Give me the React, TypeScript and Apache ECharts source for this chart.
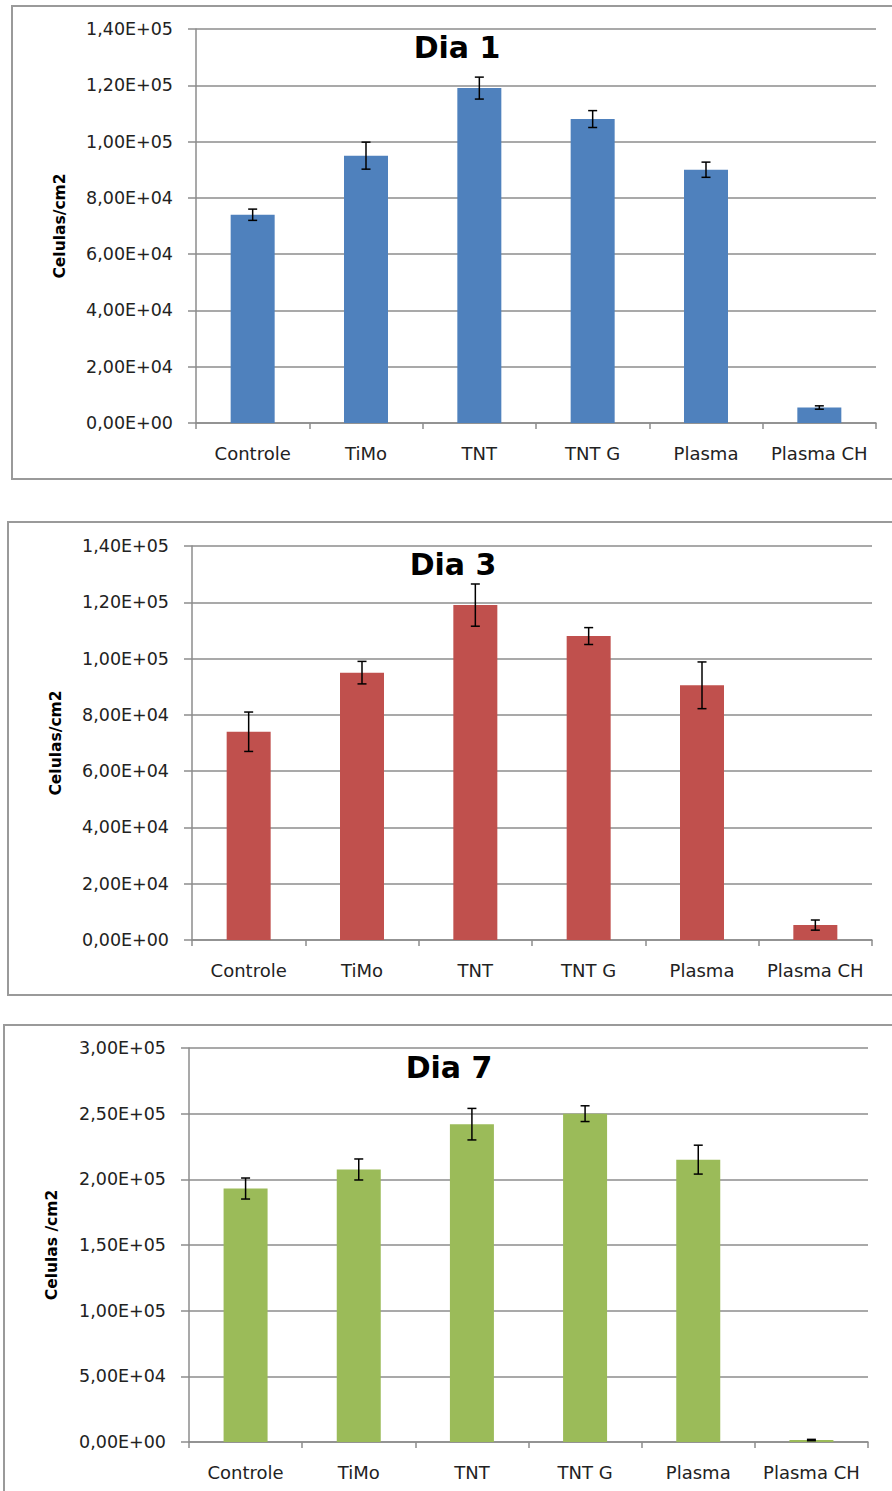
import React, { useEffect, useRef } from "react";
import * as echarts from "echarts";

const categories = ["Controle", "TiMo", "TNT", "TNT G", "Plasma", "Plasma CH"];

const dia1Values = [74000, 95000, 119000, 108000, 90000, 5500];
const dia1Errors = [2000, 4800, 3900, 3000, 2700, 600];

const dia3Values = [74000, 95000, 119000, 108000, 90500, 5300];
const dia3Errors = [7000, 4000, 7500, 3000, 8300, 1800];

const dia7Values = [193000, 207500, 242000, 250000, 215000, 1500];
const dia7Errors = [8000, 8000, 12000, 6000, 11000, 500];

const titles = ["Dia 1", "Dia 3", "Dia 7"];
const yNames = ["Celulas/cm2", "Celulas/cm2", "Celulas /cm2"];
const yMax = [140000, 140000, 300000];
const yInterval = [20000, 20000, 50000];
const colors = ["#4F81BD", "#C0504D", "#9BBB59"];

const panels = [
  { values: dia1Values, errors: dia1Errors, grid: { left: 196, top: 29, width: 680, height: 394 }, box: [12, 6, 900, 473], title: [457, 47], yName: [60, 226] },
  { values: dia3Values, errors: dia3Errors, grid: { left: 192, top: 546, width: 680, height: 394 }, box: [8, 522, 900, 473], title: [453, 564], yName: [56, 743] },
  { values: dia7Values, errors: dia7Errors, grid: { left: 189, top: 1048, width: 679, height: 394 }, box: [4, 1025, 900, 520], title: [449, 1067], yName: [52, 1245] },
];

function sci(v: number): string {
  if (v === 0) return "0,00E+00";
  const e = Math.floor(Math.log10(v) + 1e-9);
  const m = v / Math.pow(10, e);
  return m.toFixed(2).replace(".", ",") + "E+" + String(e).padStart(2, "0");
}

const FONT = "DejaVu Sans";
const GRID_COLOR = "#8c8c8c";

export default function App() {
  const ref = useRef<HTMLDivElement>(null);
  useEffect(() => {
    const chart = echarts.init(ref.current!, null, { renderer: "svg" });
    const grids: any[] = [];
    const xAxes: any[] = [];
    const yAxes: any[] = [];
    const series: any[] = [];
    const graphics: any[] = [];
    panels.forEach((p, i) => {
      grids.push({ ...p.grid, containLabel: false });
      xAxes.push({
        type: "category",
        gridIndex: i,
        data: categories,
        boundaryGap: true,
        axisLine: { lineStyle: { color: GRID_COLOR, width: 1.5 } },
        axisTick: { show: true, length: 6, lineStyle: { color: GRID_COLOR, width: 1.5 } },
        axisLabel: { margin: 21, fontFamily: FONT, fontSize: 18, color: "#222", interval: 0 },
      });
      yAxes.push({
        type: "value",
        gridIndex: i,
        min: 0,
        max: yMax[i],
        interval: yInterval[i],
        axisLine: { show: true, lineStyle: { color: GRID_COLOR, width: 1.5 } },
        axisTick: { show: true, length: 8, lineStyle: { color: GRID_COLOR, width: 1.5 } },
        splitLine: { show: true, lineStyle: { color: GRID_COLOR, width: 1.5 } },
        axisLabel: { margin: 23, fontFamily: FONT, fontSize: 17.5, color: "#222", formatter: (v: number) => sci(v) },
      });
      series.push({
        type: "bar",
        xAxisIndex: i,
        yAxisIndex: i,
        data: p.values,
        barWidth: 44,
        itemStyle: { color: colors[i] },
        z: 2,
      });
      series.push({
        type: "custom",
        xAxisIndex: i,
        yAxisIndex: i,
        z: 5,
        encode: { x: 0, y: 1 },
        data: p.values.map((v, k) => [k, v, p.errors[k]]),
        renderItem: (params: any, api: any) => {
          const x = api.value(0);
          const v = api.value(1);
          const e = api.value(2);
          const top = api.coord([x, v + e]);
          const bot = api.coord([x, v - e]);
          const hw = 4.5;
          const style = { stroke: "#000", lineWidth: 1.5 };
          return {
            type: "group",
            children: [
              { type: "line", shape: { x1: top[0], y1: top[1], x2: bot[0], y2: bot[1] }, style },
              { type: "line", shape: { x1: top[0] - hw, y1: top[1], x2: top[0] + hw, y2: top[1] }, style },
              { type: "line", shape: { x1: bot[0] - hw, y1: bot[1], x2: bot[0] + hw, y2: bot[1] }, style },
            ],
          };
        },
      });
      graphics.push({
        type: "rect",
        shape: { x: p.box[0], y: p.box[1], width: p.box[2], height: p.box[3] },
        style: { fill: "none", stroke: "#9a9a9a", lineWidth: 2 },
        z: -1,
      });
      graphics.push({
        type: "text",
        x: p.title[0],
        y: p.title[1],
        style: { text: titles[i], font: `bold 30px "${FONT}"`, fill: "#000", align: "center", verticalAlign: "middle" },
        z: 10,
      });
      graphics.push({
        type: "text",
        x: p.yName[0],
        y: p.yName[1],
        rotation: Math.PI / 2,
        style: { text: yNames[i], font: `bold 15.5px "${FONT}"`, fill: "#000", align: "center", verticalAlign: "middle" },
        z: 10,
      });
    });
    chart.setOption({
      animation: false,
      backgroundColor: "#fff",
      grid: grids,
      xAxis: xAxes,
      yAxis: yAxes,
      series,
      graphic: graphics,
    });
    return () => chart.dispose();
  }, []);
  return (
    <div
      ref={ref}
      style={{ position: "absolute", left: 0, top: 0, width: 892, height: 1491, background: "#fff" }}
    />
  );
}
